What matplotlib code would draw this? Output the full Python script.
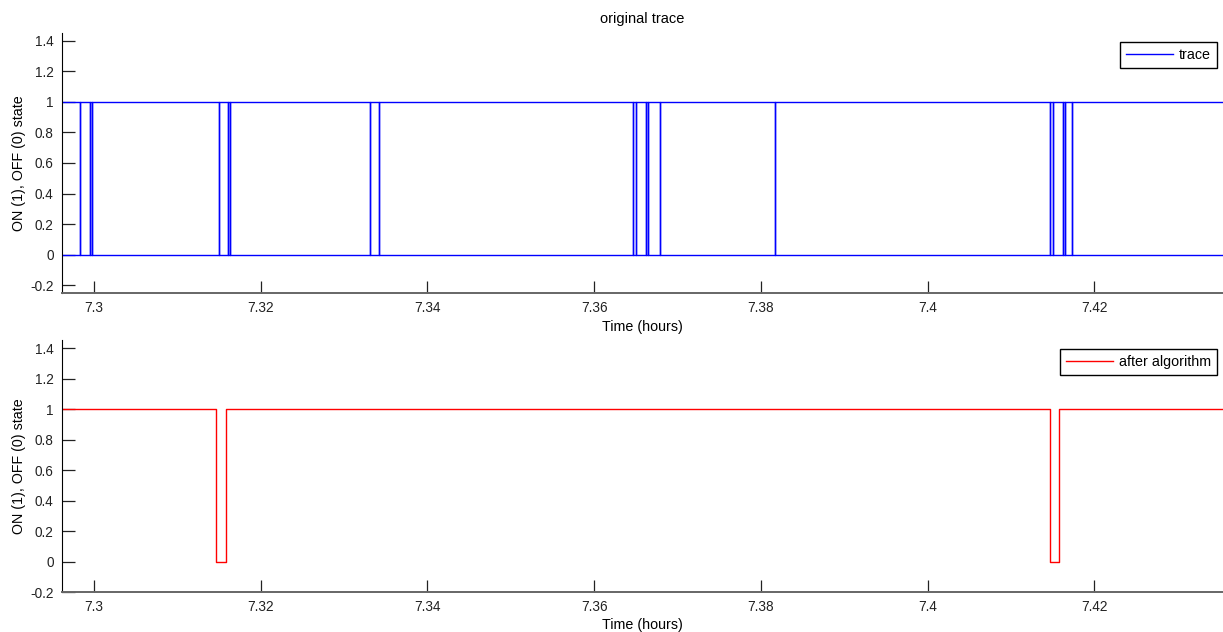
import numpy as np
import matplotlib
matplotlib.use("Agg")
import matplotlib.pyplot as plt

plt.rcParams["font.family"] = ["Liberation Sans", "DejaVu Sans"]

# recorded switching instants of the raw trace (hours)
trace_edges = [7.29832, 7.29952, 7.29976, 7.31500, 7.31608, 7.31632,
               7.33311, 7.33419, 7.36467, 7.36503, 7.36623, 7.36647,
               7.36791, 7.38170, 7.41470, 7.41506, 7.41626, 7.41650,
               7.41734]
t_start, t_end = 7.29, 7.44

# filtered output: times and state after each change
algo_times = [7.29, 7.31460, 7.31580, 7.41466, 7.41581, 7.44]
algo_state = [1, 0, 1, 0, 1, 1]

x_ticks = [7.30, 7.32, 7.34, 7.36, 7.38, 7.40, 7.42]
x_ticklabels = ["7.3", "7.32", "7.34", "7.36", "7.38", "7.4", "7.42"]
y_ticks = [-0.2, 0, 0.2, 0.4, 0.6, 0.8, 1, 1.2, 1.4]
y_ticklabels = ["-0.2", "0", "0.2", "0.4", "0.6", "0.8", "1", "1.2", "1.4"]

W, H = 1223, 632
fig = plt.figure(figsize=(W / 100, H / 100), dpi=100)
ax1 = fig.add_axes([62 / W, 1 - 293 / H, (W - 62) / W, 260 / H])
ax2 = fig.add_axes([62 / W, 1 - 592 / H, (W - 62) / W, 251.6 / H])

# top: raw trace, both levels drawn between every pair of edges
t = np.array([t_start] + trace_edges + [t_end])
state = np.array([(i % 2) for i in range(len(t))])
ax1.step(t, state, where="post", color="#0000ff", linewidth=1.0, label="trace")
ax1.step(t, 1 - state, where="post", color="#0000ff", linewidth=1.0)

ax2.step(algo_times, algo_state, where="post", color="#ff0000", linewidth=1.0,
         label="after algorithm")

for ax, ylo in ((ax1, -0.25), (ax2, -0.2)):
    ax.set_xlim(7.29616, 7.43545)
    ax.set_ylim(ylo, 1.45)
    ax.set_xticks(x_ticks)
    ax.set_xticklabels(x_ticklabels)
    ax.set_yticks(y_ticks)
    ax.set_yticklabels(y_ticklabels)
    ax.tick_params(direction="in", length=9, width=0.9, labelsize=9.8,
                   colors="#222222", pad=6)
    ax.spines["top"].set_visible(False)
    ax.spines["right"].set_visible(False)
    ax.spines["left"].set_color("black")
    ax.spines["bottom"].set_color("#666666")
    ax.spines["bottom"].set_linewidth(1.4)
    ax.set_xlabel("Time (hours)", fontsize=10.3, labelpad=3)
    ax.set_ylabel("ON (1), OFF (0) state", fontsize=10.3, labelpad=3)
    leg = ax.legend(loc="upper right", bbox_to_anchor=(0.995, 0.965),
                    fontsize=10.3, fancybox=False, frameon=True, framealpha=1,
                    handlelength=3.3, borderpad=0.42, handletextpad=0.4,
                    borderaxespad=0)
    leg.get_frame().set_edgecolor("black")
    leg.get_frame().set_linewidth(1.0)

ax1.set_title("original trace", fontsize=10.5, pad=7)

fig.savefig("out.png", dpi=100)
